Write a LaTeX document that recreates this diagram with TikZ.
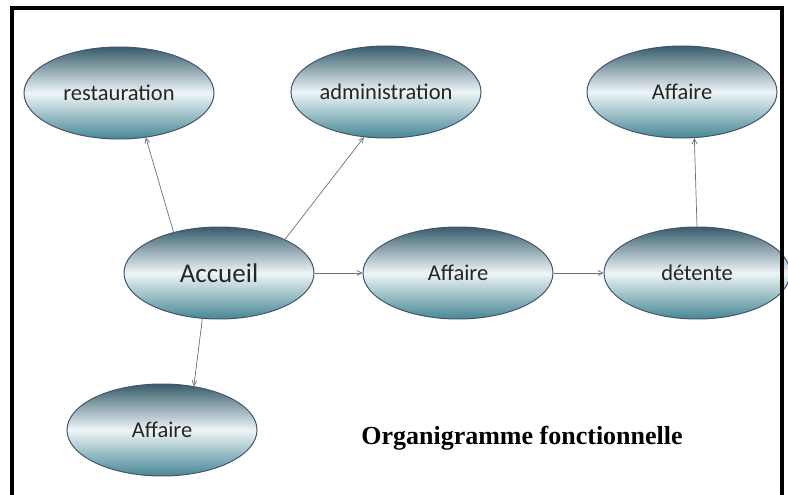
\documentclass[tikz,border=0pt]{standalone}
\usepackage{fontspec}
\setmainfont{Liberation Serif}
\newfontfamily\calib{Carlito}
\usetikzlibrary{shapes.geometric,arrows.meta}
\definecolor{etop}{RGB}{55,92,108}
\definecolor{emid}{RGB}{238,245,247}
\definecolor{ebot}{RGB}{70,135,148}
\definecolor{eline}{RGB}{70,85,110}
\definecolor{arr}{RGB}{110,110,130}
\tikzset{
  oval/.style={ellipse, draw=eline, line width=1pt, top color=etop, bottom color=ebot, middle color=emid,
    minimum width=190pt, minimum height=92pt, inner sep=0pt, font=\calib\fontsize{22.5}{25}\selectfont, text=black!85},
  link/.style={draw=arr, line width=0.7pt, -{Straight Barb[length=5pt,width=5pt]}}
}
\begin{document}
\begin{tikzpicture}[x=1pt,y=-1pt]
\useasboundingbox (0,0) rectangle (788,495);
\fill[white] (0,0) rectangle (788,495);
\node[oval] (rest) at (119,93) {restauration};
\node[oval] (admin) at (386,92) {administration};
\node[oval] (aff1) at (682,92) {Affaire};
\node[oval,font=\calib\fontsize{27}{30}\selectfont] (acc) at (219,273) {Accueil};
\node[oval] (aff2) at (458,273) {Affaire};
\node[oval,minimum width=186pt] (det) at (697,273) {détente};
\node[oval] (aff3) at (162,430) {Affaire};
\node[font=\bfseries\fontsize{26}{29}\selectfont] (title) at (522,438) {Organigramme fonctionnelle};
\draw[link] (acc.138) -- (rest.-59);
\draw[link] (acc.27) -- (admin.-116);
\draw[link] (acc.-110) -- (aff3.54);
\draw[link] (acc.east) -- (aff2.west);
\draw[link] (aff2.east) -- (det.west);
\draw[link] (det.north) -- (aff1.-75);
\draw[line width=3.5pt] (12,495) -- (12,8) -- (782,8) -- (782,495);
\end{tikzpicture}
\end{document}
